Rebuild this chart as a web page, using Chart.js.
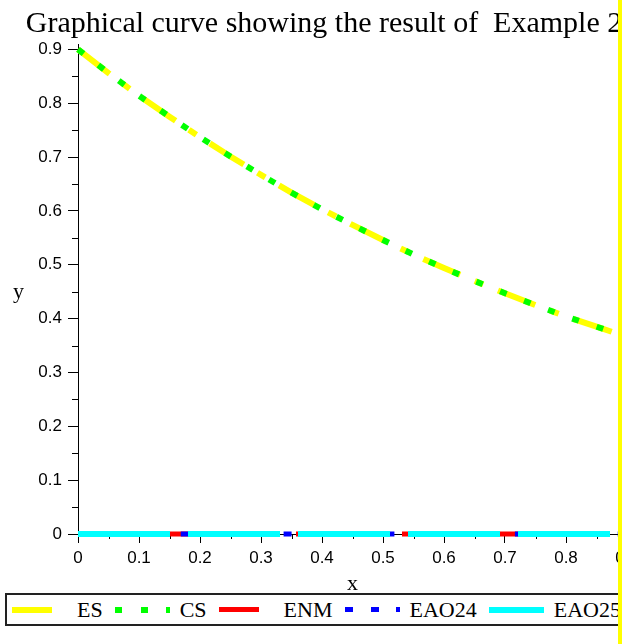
<!DOCTYPE html>
<html>
<head>
<meta charset="utf-8">
<script src="https://cdn.jsdelivr.net/npm/chart.js@4.4.1/dist/chart.umd.min.js"></script>
<style>
  html, body { margin: 0; padding: 0; background: #fff; }
  #wrap { position: relative; width: 622px; height: 644px; overflow: hidden; background: #fff; }
  #chart { position: absolute; left: 0; top: 0; }
  #ylabel { position: absolute; left: 13px; top: 280px; font: 22px/1 "Liberation Serif", serif; color: #000; }
  #legend { position: absolute; left: 5px; top: 593px; width: 700px; height: 29px; border: 2px solid #222;
            background: #fff; display: flex; align-items: center; padding-left: 5px; box-sizing: content-box;
            font: 22px "Liberation Serif", serif; color: #000; white-space: nowrap; }
  .item { display: flex; align-items: center; margin-right: 12px; }
  .sample { width: 55px; margin-right: 10px; }
  #edge { position: absolute; left: 618px; top: 0; width: 4px; height: 644px; background: #ffff00; }
</style>
</head>
<body>
<div id="wrap">
  <canvas id="chart" width="648" height="600"></canvas>
  <div id="ylabel">y</div>
  <div id="legend"></div>
  <div id="edge"></div>
</div>
<script>
// values
const xValues = [0, 0.05, 0.1, 0.15, 0.2, 0.25, 0.3, 0.35, 0.4, 0.45, 0.5, 0.55, 0.6, 0.65, 0.7, 0.75, 0.8, 0.85, 0.9];
const esValues = [0.900, 0.856, 0.814, 0.775, 0.737, 0.701, 0.667, 0.634, 0.603, 0.574, 0.546, 0.519, 0.494, 0.470, 0.447, 0.425, 0.404, 0.385, 0.366];
const csValues = [0.900, 0.856, 0.814, 0.775, 0.737, 0.701, 0.667, 0.634, 0.603, 0.574, 0.546, 0.519, 0.494, 0.470, 0.447, 0.425, 0.404, 0.385, 0.366];
const enmValues = [0, 0, 0, 0, 0, 0, 0, 0, 0, 0, 0, 0, 0, 0, 0, 0, 0, 0, 0];
const eao24Values = [0, 0, 0, 0, 0, 0, 0, 0, 0, 0, 0, 0, 0, 0, 0, 0, 0, 0, 0];
const eao25Values = [0, 0, 0, 0, 0, 0, 0, 0, 0, 0, 0, 0, 0, 0, 0, 0, 0, 0, 0];
const seriesNames = ["ES", "CS", "ENM", "EAO24", "EAO25"];
const xTickLabels = ["0", "0.1", "0.2", "0.3", "0.4", "0.5", "0.6", "0.7", "0.8", "0.9"];
const yTickLabels = ["0", "0.1", "0.2", "0.3", "0.4", "0.5", "0.6", "0.7", "0.8", "0.9"];

const styles = [
    { color: "#ffff00", width: 6, dash: [40, 16, 9, 16], order: 4 },
    { color: "#00ff00", width: 6, dash: [7, 18.7], order: 3 },
    { color: "#ff0000", width: 5, dash: [40, 16, 9, 16], order: 2 },
    { color: "#0000ff", width: 5, dash: [8, 17.7], order: 1 },
    { color: "#00ffff", width: 6, dash: [92, 18], order: 0 }
];
const allValues = [esValues, csValues, enmValues, eao24Values, eao25Values];

const datasets = seriesNames.map((name, i) => ({
    label: name,
    data: xValues.map((x, j) => ({ x: x, y: allValues[i][j] })),
    borderColor: styles[i].color,
    borderWidth: styles[i].width,
    borderDash: styles[i].dash,
    pointRadius: 0,
    tension: 0,
    fill: false,
    clip: false,
    order: styles[i].order
}));

const isMajor = v => Math.abs(v * 10 - Math.round(v * 10)) < 1e-6;
const serif = "'Liberation Serif', 'Times New Roman', serif";
const sans = "'Liberation Sans', Arial, sans-serif";

// short ticks at the 0.05 steps
const minorTicks = {
    id: "minorTicks",
    beforeDatasetsDraw(chart) {
        const { ctx, scales: { x, y } } = chart;
        ctx.save();
        ctx.strokeStyle = "#000";
        ctx.lineWidth = 1;
        ctx.beginPath();
        x.ticks.forEach(t => {
            if (isMajor(t.value)) return;
            const px = Math.round(x.getPixelForValue(t.value)) + 0.5;
            ctx.moveTo(px, x.top);
            ctx.lineTo(px, x.top + 5);
        });
        y.ticks.forEach(t => {
            if (isMajor(t.value)) return;
            const py = Math.round(y.getPixelForValue(t.value)) + 0.5;
            ctx.moveTo(y.right - 6, py);
            ctx.lineTo(y.right, py);
        });
        ctx.stroke();
        ctx.restore();
    }
};

new Chart(document.getElementById("chart"), {
    type: "line",
    data: { datasets: datasets },
    plugins: [minorTicks],
    options: {
        responsive: false,
        animation: false,
        devicePixelRatio: 1,
        layout: { padding: 0 },
        plugins: {
            legend: { display: false },
            tooltip: { enabled: false },
            title: {
                display: true,
                text: "Graphical curve showing the result of  Example 2",
                color: "#000",
                font: { family: serif, size: 30, weight: "normal", lineHeight: 1.2 },
                padding: { top: 6, bottom: 2 }
            }
        },
        scales: {
            x: {
                type: "linear",
                min: 0,
                max: 0.9,
                afterFit: scale => { scale.height = 66; },
                border: { display: true, color: "#000", width: 1 },
                grid: {
                    drawOnChartArea: false,
                    drawTicks: true,
                    tickLength: 9,
                    tickColor: c => (c.tick && isMajor(c.tick.value)) ? "#000" : "rgba(0,0,0,0)"
                },
                ticks: {
                    stepSize: 0.05,
                    autoSkip: false,
                    maxRotation: 0,
                    padding: 5,
                    color: "#000",
                    font: { family: sans, size: 17 },
                    callback: v => isMajor(v) ? xTickLabels[Math.round(v * 10)] : ""
                },
                title: {
                    display: true,
                    text: "x",
                    color: "#000",
                    font: { family: serif, size: 22, lineHeight: 1.2 },
                    padding: { top: 0, bottom: 3 }
                }
            },
            y: {
                type: "linear",
                min: 0,
                max: 0.91,
                afterFit: scale => { scale.width = 78; },
                border: { display: true, color: "#000", width: 1 },
                grid: {
                    drawOnChartArea: false,
                    drawTicks: true,
                    tickLength: 10,
                    tickColor: c => (c.tick && isMajor(c.tick.value)) ? "#000" : "rgba(0,0,0,0)"
                },
                ticks: {
                    stepSize: 0.05,
                    includeBounds: false,
                    autoSkip: false,
                    padding: 6,
                    color: "#000",
                    font: { family: sans, size: 17 },
                    callback: v => isMajor(v) ? yTickLabels[Math.round(v * 10)] : ""
                }
            },
            // empty right axis, only keeps room on the right so the title stays centred on the full width
            pad: {
                type: "linear",
                position: "right",
                afterFit: scale => { scale.width = 21; },
                border: { display: false },
                grid: { display: false },
                ticks: { display: false }
            }
        }
    }
});

// legend built from the same series and styles
function sampleBackground(color, dash) {
    if (!dash || dash.length === 0) return color;
    let stops = [];
    let pos = 0;
    dash.forEach((len, k) => {
        const c = k % 2 === 0 ? color : "transparent";
        stops.push(c + " " + pos + "px " + (pos + len) + "px");
        pos += len;
    });
    return "repeating-linear-gradient(to right, " + stops.join(", ") + ")";
}

const legend = document.getElementById("legend");
seriesNames.forEach((name, i) => {
    const item = document.createElement("span");
    item.className = "item";
    const sample = document.createElement("span");
    sample.className = "sample";
    sample.style.height = styles[i].width + "px";
    const dash = styles[i].color === "#00ffff" ? [] : styles[i].dash;
    sample.style.background = sampleBackground(styles[i].color, dash);
    const text = document.createElement("span");
    text.textContent = name;
    item.appendChild(sample);
    item.appendChild(text);
    legend.appendChild(item);
});
</script>
</body>
</html>
